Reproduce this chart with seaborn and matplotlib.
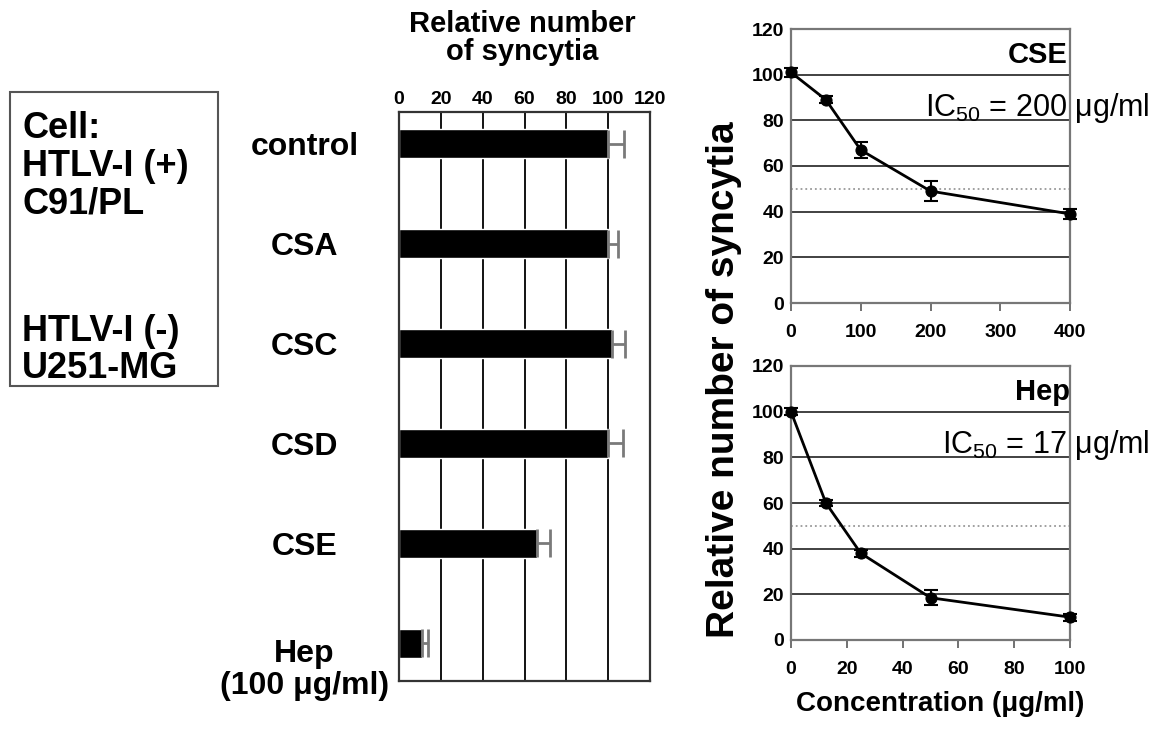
import matplotlib
matplotlib.use("Agg")
import matplotlib.pyplot as plt
import matplotlib.transforms as mtransforms
from matplotlib.patches import Rectangle
import numpy as np
import seaborn as sns

# ---------------- data ----------------
bar_labels = ["control", "CSA", "CSC", "CSD", "CSE", "Hep\n(100 μg/ml)"]
bar_values = [100, 100, 102, 100, 66, 11]
bar_errors = [7.5, 4.5, 6, 7, 6, 3]
bar_ticks = [0, 20, 40, 60, 80, 100, 120]

cse_conc = [0, 50, 100, 200, 400]
cse_vals = [101, 89, 67, 49, 39]
cse_err = [2, 1.5, 3.5, 4.5, 2]
cse_xticks = [0, 100, 200, 300, 400]

hep_conc = [0, 12.5, 25, 50, 100]
hep_vals = [100, 60, 38, 18.5, 10]
hep_err = [1.5, 1.5, 1.5, 3.3, 1.5]
hep_xticks = [0, 20, 40, 60, 80, 100]

y_ticks = [0, 20, 40, 60, 80, 100, 120]
ic50_level = 50

box_lines_top = ["Cell:", "HTLV-I (+)", "C91/PL"]
box_lines_bottom = ["HTLV-I (-)", "U251-MG"]

# ---------------- style ----------------
sns.set_theme(style="white")
plt.rcParams["font.family"] = ["Liberation Sans", "DejaVu Sans"]
plt.rcParams["mathtext.fontset"] = "custom"
plt.rcParams["mathtext.rm"] = "Liberation Sans"
plt.rcParams["mathtext.it"] = "Liberation Sans:italic"
plt.rcParams["mathtext.bf"] = "Liberation Sans:bold"
for key in ["text.color", "axes.labelcolor", "xtick.color", "ytick.color"]:
    plt.rcParams[key] = "black"

W, H = 1165, 730
fig = plt.figure(figsize=(W / 100, H / 100), dpi=100)
fig.patch.set_facecolor("white")


def rect(l, t, r, b):
    return [l / W, 1 - b / H, (r - l) / W, (b - t) / H]


# ---------------- bar chart ----------------
ax1 = fig.add_axes(rect(399, 112, 650, 681))
ax1.set_axisbelow(True)
sns.barplot(x=bar_values, y=bar_labels, orient="h", color="black",
            saturation=1, width=0.29, errorbar=None, ax=ax1)
ax1.errorbar(bar_values, np.arange(len(bar_values)),
             xerr=[np.zeros(len(bar_errors)), bar_errors],
             fmt="none", ecolor="#7a7a7a", elinewidth=2, capsize=10,
             capthick=2, zorder=3)
ax1.set_xlim(0, 120)
ax1.set_ylim(5.38, -0.32)
ax1.xaxis.tick_top()
ax1.set_xticks(bar_ticks)
ax1.set_xticklabels([str(t) for t in bar_ticks], fontsize=14, fontweight="bold")
ax1.tick_params(axis="x", length=0, pad=3, colors="black")
ax1.grid(axis="x", color="black", lw=1.3)
ax1.grid(axis="y", visible=False)
ax1.set_xlabel("")
ax1.set_ylabel("")
for s in ax1.spines.values():
    s.set_color("#333333")
    s.set_linewidth(1.6)
ax1.tick_params(axis="y", length=0, pad=68, colors="black")
for lab in ax1.get_yticklabels():
    lab.set_fontsize(23)
    lab.set_fontweight("bold")
    lab.set_horizontalalignment("center")
    lab.set_multialignment("center")
    lab.set_linespacing(1.1)
last = ax1.get_yticklabels()[-1]
last.set_transform(last.get_transform() +
                   mtransforms.ScaledTranslation(0, -0.22, fig.dpi_scale_trans))

fig.text(522 / W, 1 - 38 / H, "Relative number\nof syncytia", ha="center",
         va="center", fontsize=21, fontweight="bold", linespacing=1.0)


# ---------------- line charts ----------------
def line_panel(ax, conc, vals, err, xticks, name, ic_text, name_x, ic_x):
    ax.set_axisbelow(True)
    ax.axhline(ic50_level, color="#999999", ls=":", lw=1.3, zorder=1)
    sns.lineplot(x=conc, y=vals, ax=ax, color="black", marker="o",
                 markersize=8, linewidth=2, markeredgecolor="black", zorder=4)
    ax.errorbar(conc, vals, yerr=err, fmt="none", ecolor="black",
                elinewidth=1.5, capsize=5, capthick=1.5, zorder=4)
    for ln in ax.lines:
        ln.set_clip_on(False)
    ax.set_xlim(xticks[0], xticks[-1])
    ax.set_ylim(0, 120)
    ax.set_yticks(y_ticks)
    ax.set_yticklabels([str(t) for t in y_ticks], fontsize=14, fontweight="bold")
    ax.set_xticks(xticks)
    ax.set_xticklabels([str(t) for t in xticks], fontsize=14, fontweight="bold")
    ax.tick_params(axis="y", length=0, pad=5, labelcolor="black")
    ax.tick_params(axis="x", length=6, width=1.3, color="#666666",
                   labelcolor="black", direction="out", pad=9, bottom=True)
    ax.grid(axis="y", color="#333333", lw=1.3)
    ax.grid(axis="x", visible=False)
    for s in ax.spines.values():
        s.set_color("#777777")
        s.set_linewidth(1.6)
    ax.set_xlabel("")
    ax.set_ylabel("")
    ax.text(name_x, 108.6, name, ha="right", va="center", fontsize=21,
            fontweight="bold")
    ax.text(ic_x, 85.5, ic_text, ha="left", va="center", fontsize=22)


ax2 = fig.add_axes(rect(791, 29, 1070, 303))
line_panel(ax2, cse_conc, cse_vals, cse_err, cse_xticks, "CSE",
           r"$\mathrm{IC}_{50}$ = 200 μg/ml", 396, 192)

ax3 = fig.add_axes(rect(791, 366, 1070, 640))
line_panel(ax3, hep_conc, hep_vals, hep_err, hep_xticks, "Hep",
           r"$\mathrm{IC}_{50}$ = 17 μg/ml", 100, 54)

fig.text(940 / W, 1 - 704 / H, "Concentration (μg/ml)", ha="center",
         va="center", fontsize=20, fontweight="bold")
fig.text(724 / W, 1 - 380 / H, "Relative number of syncytia", ha="center",
         va="center", rotation=90, fontsize=28, fontweight="bold")

# ---------------- cell box ----------------
fig.add_artist(Rectangle((10 / W, 1 - 386 / H), 208 / W, 294 / H,
                         transform=fig.transFigure, fill=False,
                         edgecolor="#555555", lw=1.5))
for txt, yc in zip(box_lines_top, [129, 166, 204]):
    fig.text(22 / W, 1 - yc / H, txt, ha="left", va="center", fontsize=26,
             fontweight="bold")
for txt, yc in zip(box_lines_bottom, [331, 368]):
    fig.text(22 / W, 1 - yc / H, txt, ha="left", va="center", fontsize=26,
             fontweight="bold")

fig.savefig("out.png", dpi=100, facecolor="white")
